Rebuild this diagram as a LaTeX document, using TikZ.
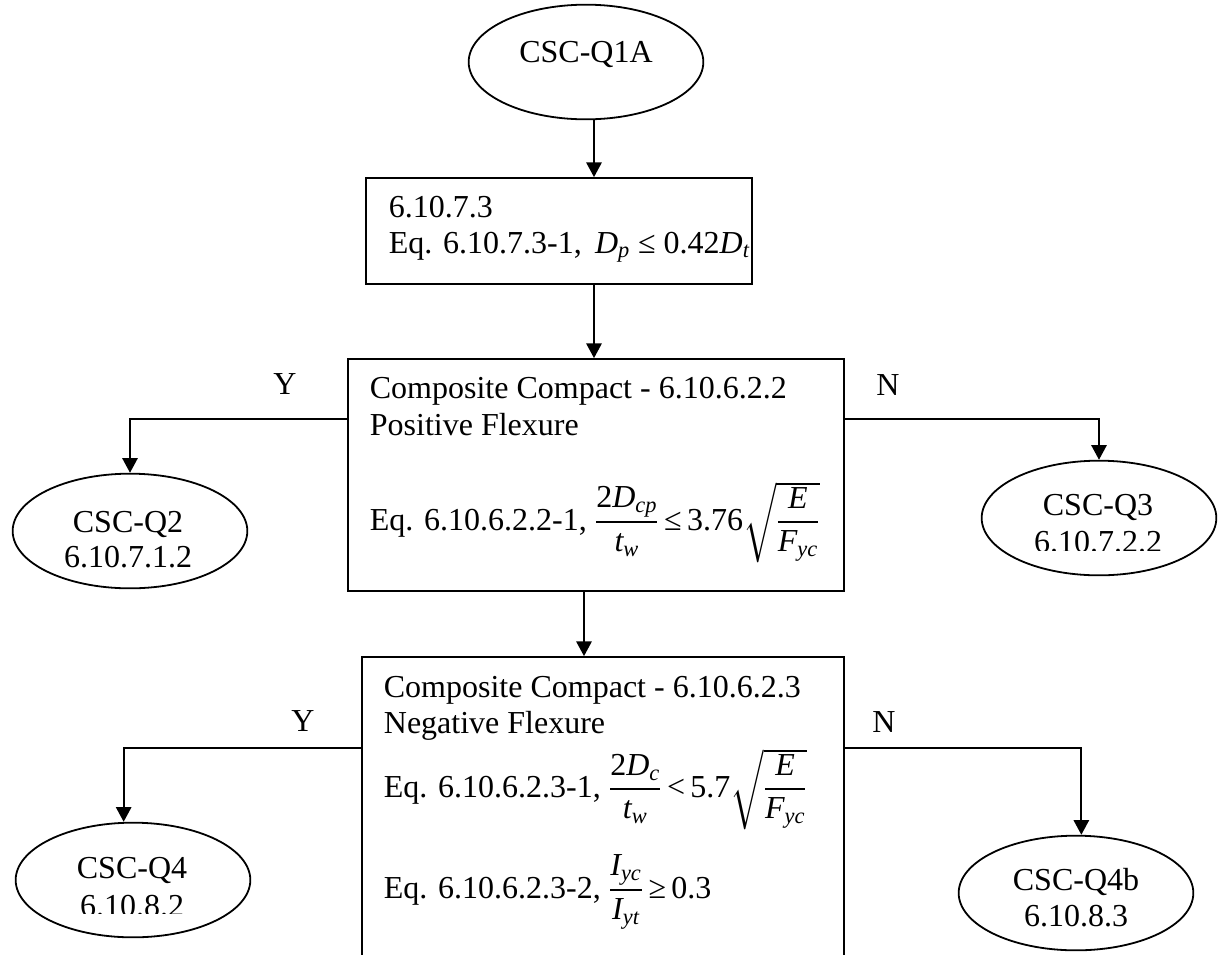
\RequirePackage{fix-cm}
\documentclass[tikz,border=0pt]{standalone}
\usepackage{amsmath}
\usepackage{fontspec}
\setmainfont{Liberation Serif}
\usetikzlibrary{shapes.geometric,arrows.meta}
\newcommand{\mi}[1]{\text{\itshape #1}}
\newcommand{\tx}[1]{\text{#1}}
\begin{document}
\begin{tikzpicture}[x=0.75pt,y=-0.75pt,
  line width=1.35pt,
  every node/.style={font=\fontsize{24}{27.6}\selectfont, inner sep=0pt},
  box/.style={draw, rectangle, inner sep=0pt},
  oval/.style={draw, ellipse, inner sep=0pt, minimum width=176pt, minimum height=86pt},
  lbl/.style={anchor=base west},
  ctr/.style={anchor=base},
  arr/.style={-{Triangle[length=11pt,width=11.5pt]}}]
\useasboundingbox (0,0) rectangle (1221,954);
\clip (0,0) rectangle (1221,954);

% shapes
\node[oval] (q1a) at (586,62) {};
\node[box, minimum width=289.5pt, minimum height=79.5pt] (b1) at (559,231) {};
\node[box, minimum width=372pt, minimum height=174pt] (b2) at (596,475) {};
\node[box, minimum width=361.5pt, minimum height=257.25pt] (b3) at (603,828.5) {};
\node[oval] (q2) at (130,531) {};
\node[oval] (q3) at (1099,518) {};
\node[oval] (q4) at (133,880) {};
\node[oval] (q4b) at (1076,893) {};

% texts
\node[ctr] (t1a) at (586,62) {CSC-Q1A};
\node[lbl] (t11) at (388,217) {6.10.7.3};
\node[lbl] (t12) at (388,253) {Eq. 6.10.7.3-1, \,$\mi{D}_{\mi{p}}$ ≤ 0.42$\mi{D}_{\mi{t}}$};

\node[lbl] (t21) at (369,398) {Composite Compact - 6.10.6.2.2};
\node[lbl] (t22) at (369,435) {Positive Flexure};
\node[lbl] (t23) at (369,530) {Eq. 6.10.6.2.2-1, $\dfrac{\tx{2}\mi{D}_{\mi{cp}}}{\mi{t}_{\mi{w}}}\tx{\,≤\,3.76}\sqrt{\dfrac{\mi{E}}{\mi{F}_{\mi{yc}}}}$};

\node[lbl] (t31) at (383,697) {Composite Compact - 6.10.6.2.3};
\node[lbl] (t32) at (383,733) {Negative Flexure};
\node[lbl] (t33) at (383,797) {Eq. 6.10.6.2.3-1, $\dfrac{\tx{2}\mi{D}_{\mi{c}}}{\mi{t}_{\mi{w}}}\tx{\,<\,5.7}\sqrt{\dfrac{\mi{E}}{\mi{F}_{\mi{yc}}}}$};
\node[lbl] (t34) at (383,898) {Eq. 6.10.6.2.3-2, $\dfrac{\mi{I}_{\mi{yc}}}{\mi{I}_{\mi{yt}}}\tx{\,≥\,0.3}$};

\node[ctr] (tq2a) at (128,532) {CSC-Q2};
\node[ctr] (tq2b) at (128,567) {6.10.7.1.2};
\node[ctr] (tq3a) at (1098,515) {CSC-Q3};
\begin{scope}
  \clip (1020,520) rectangle (1180,550);
  \node[ctr] (tq3b) at (1098,552) {6.10.7.2.2};
\end{scope}
\node[ctr] (tq4a) at (132,878) {CSC-Q4};
\begin{scope}
  \clip (50,880) rectangle (220,913);
  \node[ctr] (tq4b) at (132,916) {6.10.8.2};
\end{scope}
\node[ctr] (tq4ba) at (1076,890) {CSC-Q4b};
\node[ctr] (tq4bb) at (1076,926) {6.10.8.3};

\node (yu) at (285,384) {Y};
\node (nu) at (888,385) {N};
\node (yl) at (303,721) {Y};
\node (nl) at (884,722) {N};

% connector guides
\coordinate (a1) at (594,0);
\coordinate (a2) at (584,0);
\coordinate (ru) at (0,419);
\coordinate (rl) at (0,748);

% connectors
\draw[arr] (q1a.south -| a1) -- (b1.north -| a1);
\draw[arr] (b1.south -| a1) -- (b2.north -| a1);
\draw[arr] (b2.south -| a2) -- (b3.north -| a2);
\draw[arr] (b2.west |- ru) -| (q2.north);
\draw[arr] (b2.east |- ru) -| (q3.north);
\draw[arr] (b3.west |- rl) -| ([xshift=-7pt]q4.north);
\draw[arr] (b3.east |- rl) -| ([xshift=4pt]q4b.north);
\end{tikzpicture}
\end{document}
